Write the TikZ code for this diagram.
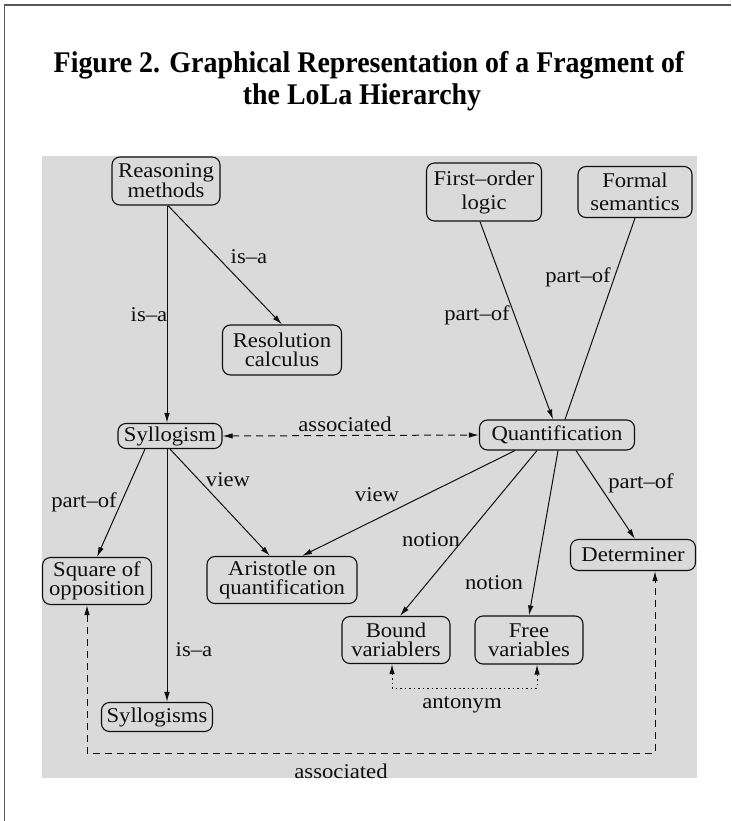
\documentclass[tikz,border=0pt]{standalone}
\usepackage{fontspec}
\setmainfont{Liberation Serif}
\newfontfamily\diagfont[FakeStretch=1.08]{Liberation Serif}
\newfontfamily\ttlfont[FakeStretch=0.93]{Liberation Serif}
\usetikzlibrary{arrows.meta}
\definecolor{bgc}{RGB}{218,218,218}
\definecolor{ink}{RGB}{15,15,15}
\definecolor{framec}{RGB}{90,90,90}
\newcommand\diagtext{\diagfont\fontsize{21}{19}\selectfont}
\newcommand\ttltext{\ttlfont\bfseries\fontsize{30}{32}\selectfont}
\begin{document}
\begin{tikzpicture}[x=1pt,y=-1pt,
  box/.style={draw=ink, line width=1.1pt, rounded corners=8pt, inner sep=0pt, align=center, font=\diagtext, text=ink},
  lbl/.style={inner sep=0pt, font=\diagtext, text=ink},
  tip/.tip={Latex[length=10pt,width=5.5pt]},
  arr/.style={draw=ink, line width=1pt, -tip},
  plain/.style={draw=ink, line width=1pt},
  dsh/.style={draw=ink, line width=1pt, dash pattern=on 7pt off 5pt, tip-tip},
  dtt/.style={draw=ink, line width=1pt, dash pattern=on 1.5pt off 3pt, tip-tip}]
\useasboundingbox (0,0) rectangle (731,821);
\fill[white] (0,0) rectangle (731,821);
\draw[framec, line width=1.6pt] (4.5,821) -- (4.5,5) -- (731,5);
\node[font=\ttltext, anchor=base, inner sep=0pt] (t1) at (369,73) {Figure 2. Graphical Representation of a Fragment of};
\node[font=\ttltext, anchor=base, inner sep=0pt] (t2) at (362,105) {the LoLa Hierarchy};
\fill[bgc] (42,156) rectangle (697,778);

\node[box, minimum width=108pt, minimum height=48pt] (RM) at (166,181) {Reasoning\\methods};
\node[box, minimum width=119pt, minimum height=50pt] (RC) at (282,350) {Resolution\\calculus};
\node[box, minimum width=115pt, minimum height=58pt] (FO) at (484,192) {First–order\\[5pt]logic};
\node[box, minimum width=114pt, minimum height=51pt] (FS) at (635,192) {Formal\\[4pt]semantics};
\node[box, minimum width=104pt, minimum height=25pt] (SY) at (170,436) {Syllogism};
\node[box, minimum width=155pt, minimum height=30pt] (QU) at (557,435) {Quantification};
\node[box, minimum width=109pt, minimum height=47pt] (SQ) at (97,581) {Square of\\opposition};
\node[box, minimum width=150pt, minimum height=47pt] (AR) at (282,580) {Aristotle on\\quantification};
\node[box, minimum width=125pt, minimum height=31pt] (DE) at (633,555) {Determiner};
\node[box, minimum width=108pt, minimum height=47pt] (BV) at (396,640) {Bound\\variablers};
\node[box, minimum width=108pt, minimum height=48pt] (FV) at (529,640) {Free\\variables};
\node[box, minimum width=111pt, minimum height=29pt] (SS) at (157,717) {Syllogisms};

\draw[arr] ([xshift=1pt]RM.south) -- ([xshift=1pt]RM.south |- SY.north);
\node[lbl] (l1) at (149,315) {is–a};
\draw[arr] ([xshift=2pt]RM.south) -- (RC.north);
\node[lbl] (l2) at (249,257) {is–a};
\draw[arr] ([xshift=-4pt]FO.south) -- ([xshift=-4pt]QU.north);
\node[lbl] (l3) at (477,315) {part–of};
\draw[plain] (FS.south) -- ([xshift=8pt]QU.north);
\node[lbl] (l4) at (578,277) {part–of};
\draw[dsh] (SY.east) -- (QU.west);
\node[lbl] (l5) at (345,424) {associated};
\draw[arr] ([xshift=-25pt]SY.south) -- (SQ.north);
\node[lbl] (l6) at (84,502) {part–of};
\draw[arr] ([xshift=-3pt]SY.south) -- ([xshift=-3pt]SY.south |- SS.north);
\node[lbl] (l7) at (194,650) {is–a};
\draw[arr] (SY.south) -- ([xshift=-12pt]AR.north);
\node[lbl] (l8) at (228,480) {view};
\draw[arr] ([xshift=-42pt]QU.south) -- ([xshift=20pt]AR.north);
\node[lbl] (l9) at (377,495) {view};
\draw[arr] ([xshift=-20pt]QU.south) -- ([xshift=4pt]BV.north);
\node[lbl] (l10) at (431,540) {notion};
\draw[arr] ([xshift=1pt]QU.south) -- (FV.north);
\node[lbl] (l11) at (494,583) {notion};
\draw[arr] ([xshift=19pt]QU.south) -- ([xshift=2pt]DE.north);
\node[lbl] (l12) at (641,483) {part–of};
\coordinate (asc) at (300,753);
\draw[dsh] ([xshift=-10pt]SQ.south) |- (asc) -| ([xshift=22pt]DE.south);
\node[lbl] (l13) at (341,771) {associated};
\coordinate (ant) at (460,688);
\draw[dtt] ([xshift=-4pt]BV.south) |- (ant) -| ([xshift=8pt]FV.south);
\node[lbl] (l14) at (462,705) {antonym};
\end{tikzpicture}
\end{document}
